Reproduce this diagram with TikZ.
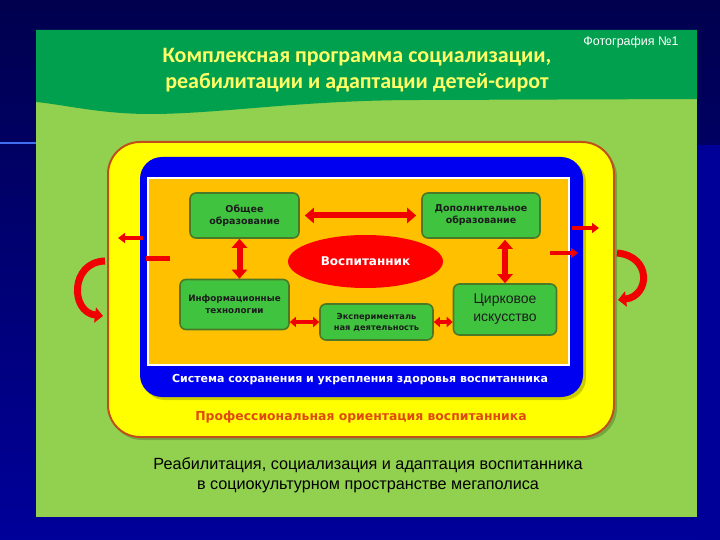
\documentclass[tikz,border=0pt]{standalone}
\usepackage{fontspec}
\setmainfont{Liberation Sans}
\newfontfamily\hdrfont{Carlito}
\newfontfamily\tahfont{DejaVu Sans}
\usetikzlibrary{arrows.meta,calc,shapes.geometric}
\definecolor{navytop}{HTML}{00004E}
\definecolor{navybot}{HTML}{00009A}
\definecolor{navyright}{HTML}{000098}
\definecolor{bgline}{HTML}{3F6FF0}
\definecolor{slidegreen}{HTML}{92D050}
\definecolor{hdrgreen}{HTML}{00A04E}
\definecolor{hdryellow}{HTML}{FFFF66}
\definecolor{ybox}{HTML}{FFFF00}
\definecolor{ybord}{HTML}{C0501A}
\definecolor{bbox}{HTML}{0000F0}
\definecolor{obox}{HTML}{FFC000}
\definecolor{ngreen}{HTML}{40C440}
\definecolor{nbord}{HTML}{4A7A28}
\definecolor{ntext}{HTML}{1C1C1C}
\definecolor{redarr}{HTML}{F00000}
\definecolor{proftext}{HTML}{E04A10}
\tikzset{
  gbox/.style={draw=nbord, fill=ngreen, line width=1.6pt, rounded corners=6pt,
    align=center, text=ntext, inner sep=1pt},
  dbl/.style={draw=redarr, line width=6pt,
    {Triangle[length=9pt,width=15pt]}-{Triangle[length=9pt,width=15pt]}},
  sdbl/.style={draw=redarr, line width=4pt,
    {Triangle[length=6pt,width=10pt]}-{Triangle[length=6pt,width=10pt]}},
  sarr/.style={draw=redarr, line width=4pt, -{Triangle[length=7pt,width=10pt]}},
  carr/.style={draw=redarr, line width=7pt, -{Triangle[length=8pt,width=15pt]}},
}
\begin{document}
\begin{tikzpicture}[x=1pt,y=-1pt]
\useasboundingbox (0,0) rectangle (720,540);
% background
\shade[top color=navytop, bottom color=navybot] (0,0) rectangle (720,540);
\fill[navyright] (697,145) rectangle (720,540);
\draw[bgline, line width=2pt] (0,143) -- (36,143);
% slide
\fill[slidegreen] (36,30) rectangle (697,517);
\fill[hdrgreen] (36,30) -- (697,30) -- (697,99) -- (420,100)
  .. controls (300,100) and (220,114) .. (150,114)
  .. controls (100,114) and (60,104) .. (36,102) -- cycle;
\node[font=\hdrfont\bfseries\fontsize{22}{26}\selectfont, text=hdryellow, align=center]
  (title) at (357,70) {Комплексная программа социализации,\\реабилитации и адаптации детей-сирот};
\node[font=\fontsize{12.5}{14}\selectfont, text=white] (photo) at (631,42) {Фотография №1};
% frames
\fill[black, opacity=0.2, rounded corners=32pt] (110,145) rectangle (617,440);
\draw[fill=ybox, draw=ybord, line width=2pt, rounded corners=32pt] (108,142) rectangle (614,437);
\fill[black, opacity=0.2, rounded corners=22pt] (143,160) rectangle (586,400);
\fill[bbox, rounded corners=22pt] (140,157) rectangle (583,397);
\draw[fill=obox, draw=white, line width=2pt] (148,178) rectangle (569,365);
\node[font=\tahfont\bfseries\fontsize{11}{13}\selectfont, text=white] (health) at (360,380)
  {Система сохранения и укрепления здоровья воспитанника};
\node[font=\tahfont\bfseries\fontsize{12.4}{14}\selectfont, text=proftext] (prof) at (361,417)
  {Профессиональная ориентация воспитанника};
\node[font=\fontsize{16.2}{20}\selectfont, text=black, align=center] (rehab) at (368,475)
  {Реабилитация, социализация и адаптация воспитанника\\в социокультурном пространстве мегаполиса};
% inner nodes
\node[gbox, minimum width=109pt, minimum height=45pt, font=\tahfont\bfseries\fontsize{9.5}{12}\selectfont]
  (obs) at (244.5,215.5) {Общее\\образование};
\node[gbox, minimum width=118pt, minimum height=45pt, font=\tahfont\bfseries\fontsize{9.5}{12}\selectfont]
  (dop) at (481,215.5) {Дополнительное\\образование};
\node[ellipse, fill=red, minimum width=155pt, minimum height=53pt, text=white,
  font=\tahfont\bfseries\fontsize{12}{14}\selectfont] (vosp) at (365.5,261.5) {Воспитанник};
\node[gbox, minimum width=109pt, minimum height=50pt, font=\tahfont\bfseries\fontsize{8.8}{12}\selectfont]
  (info) at (234.5,304.5) {Информационные\\технологии};
\node[gbox, minimum width=113pt, minimum height=36pt, font=\tahfont\bfseries\fontsize{8.3}{11}\selectfont]
  (exp) at (376.5,322) {Эксперименталь\\ная деятельность};
\node[gbox, minimum width=103pt, minimum height=51pt, font=\fontsize{14}{18}\selectfont]
  (cirk) at (505,309.5) {Цирковое\\искусство};
% connectors
\draw[dbl, shorten <=5pt, shorten >=5pt] (obs.east) -- (dop.west);
\coordinate (mL) at ($(obs.south)!0.5!(info.north)$);
\draw[dbl] (obs.south -| mL) -- (info.north -| mL);
\draw[dbl, shorten <=1pt] (cirk.north |- dop.south) -- (cirk.north);
\draw[sdbl] (exp.west -| info.east) -- (exp.west);
\draw[sdbl] (exp.east) -- (exp.east -| cirk.west);
% side arrows
\coordinate (l1a) at (143,238); \coordinate (l1b) at (118,238);
\draw[sarr] (l1a) -- (l1b);
\coordinate (l2a) at (146,258); \coordinate (l2b) at (170,258);
\draw[draw=redarr, line width=5pt] (l2a) -- (l2b);
\coordinate (r1a) at (572,228); \coordinate (r1b) at (599,228);
\draw[sarr] (r1a) -- (r1b);
\coordinate (r2a) at (550,253); \coordinate (r2b) at (578,253);
\draw[sarr] (r2a) -- (r2b);
\coordinate (lc1) at (105,261); \coordinate (lc2) at (103,316);
\draw[carr] (lc1) .. controls (70,262) and (70,312) .. (lc2);
\coordinate (rc1) at (617,253); \coordinate (rc2) at (618,300);
\draw[carr] (rc1) .. controls (652,256) and (650,296) .. (rc2);
\end{tikzpicture}
\end{document}
